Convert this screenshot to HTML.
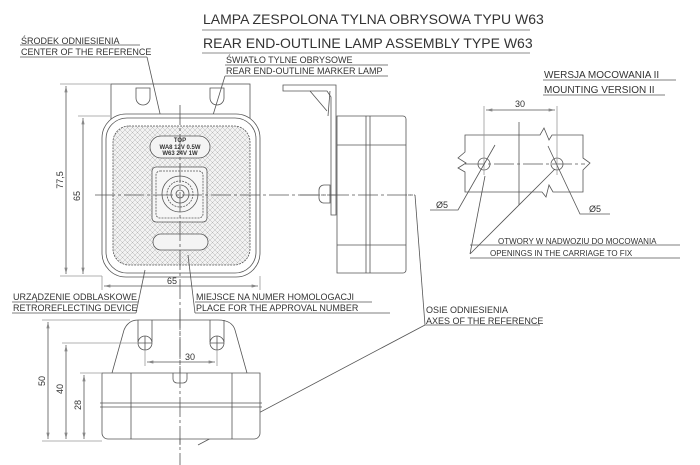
<!DOCTYPE html>
<html><head><meta charset="utf-8"><style>
html,body{margin:0;padding:0;background:#fff;}
svg{display:block;}
text{font-family:"Liberation Sans","DejaVu Sans",sans-serif;fill:#333;}
</style></head><body>
<svg width="700" height="465" viewBox="0 0 700 465" xmlns="http://www.w3.org/2000/svg">
<defs>
<pattern id="tex" width="5" height="5" patternUnits="userSpaceOnUse">
<rect width="5" height="5" fill="#f2f2f2"/>
<path d="M0 0L5 5M5 0L0 5" stroke="#b8b8b8" stroke-width="0.5"/>
</pattern>
<marker id="ar" markerWidth="8" markerHeight="4" refX="8" refY="2" orient="auto-start-reverse"><path d="M0 0L8 2L0 4z" fill="#888"/></marker>
</defs>
<g stroke="#555" stroke-width="0.8" fill="none">
<line x1="202" y1="30" x2="530" y2="30" stroke="#666"/>
<line x1="202" y1="53" x2="530" y2="53" stroke="#666"/>
<line x1="20" y1="45" x2="140" y2="45"/>
<line x1="20" y1="57" x2="147" y2="57"/>
<line x1="147" y1="57" x2="178" y2="192"/>
<line x1="225" y1="65" x2="388" y2="65"/>
<line x1="225" y1="76" x2="388" y2="76"/>
<line x1="225" y1="76" x2="190" y2="190"/>
<rect x="111" y="84" width="139" height="40"/>
<path d="M136 88v10a7 7 0 0 0 14 0v-10z"/>
<path d="M210 88v10a7 7 0 0 0 14 0v-10z"/>
<rect x="102" y="114" width="158" height="163" rx="24" fill="#fff"/>
<rect x="106" y="118" width="150" height="155" rx="21"/>
<rect x="113" y="126" width="137" height="139" rx="16" fill="url(#tex)" stroke-dasharray="2 1"/>
<rect x="150" y="136" width="60" height="22" rx="11" fill="#f4f4f4"/>
<rect x="152" y="167" width="55" height="55" rx="4" fill="#f6f6f6"/>
<rect x="156" y="171" width="47" height="47" rx="4" stroke-dasharray="2 1"/>
<circle cx="180" cy="194" r="18"/>
<circle cx="180" cy="194" r="13" stroke-dasharray="2 1"/>
<circle cx="180" cy="194" r="9"/>
<circle cx="180" cy="194" r="4"/>
<rect x="153" y="234" width="55" height="16" rx="8" fill="#f4f4f4"/>
<line x1="180" y1="105" x2="180" y2="465" stroke-dasharray="20 3 3 3"/>
<line x1="95" y1="195" x2="415" y2="195" stroke-dasharray="20 3 3 3"/>
<line x1="415" y1="195" x2="425" y2="325"/>
<line x1="60" y1="84" x2="111" y2="84" stroke="#999"/>
<line x1="78" y1="116" x2="110" y2="116" stroke="#999"/>
<line x1="60" y1="276" x2="102" y2="276" stroke="#999"/>
<line x1="66" y1="86" x2="66" y2="274" marker-start="url(#ar)" marker-end="url(#ar)"/>
<line x1="83" y1="118" x2="83" y2="274" marker-start="url(#ar)" marker-end="url(#ar)"/>
<line x1="102" y1="276" x2="102" y2="290" stroke="#999"/>
<line x1="260" y1="276" x2="260" y2="290" stroke="#999"/>
<line x1="104" y1="286" x2="258" y2="286" marker-start="url(#ar)" marker-end="url(#ar)"/>
<line x1="12" y1="302" x2="138" y2="302"/>
<line x1="12" y1="313" x2="136" y2="313"/>
<line x1="136" y1="313" x2="145" y2="270"/>
<line x1="195" y1="302" x2="372" y2="302"/>
<line x1="195" y1="313" x2="390" y2="313"/>
<line x1="195" y1="313" x2="188" y2="255"/>
<path d="M283 85h53v130h-5v-118l-4-6h-44z"/>
<path d="M310 91l17 20M330 91l-2 25"/>
<path d="M337 116h66a3 3 0 0 1 3 3v151a3 3 0 0 1-3 3h-66z" fill="#fff"/>
<line x1="366" y1="116" x2="366" y2="273"/>
<line x1="370" y1="116" x2="370" y2="273"/>
<line x1="337" y1="145" x2="406" y2="145"/>
<line x1="337" y1="245" x2="406" y2="245"/>
<path d="M330 185h-6a5 5 0 0 0-5 5v8a5 5 0 0 0 5 5h6z"/>
<line x1="300" y1="195" x2="415" y2="195" stroke-dasharray="20 3 3 3"/>
<line x1="425" y1="325" x2="540" y2="325"/>
<line x1="425" y1="325" x2="198" y2="445"/>
<path d="M112 373l12-43q4-10 14-10h80q14 0 17 10l12 43"/>
<path d="M138 320v22M152 320v22M210 320v22M224 320v22"/>
<circle cx="145" cy="343" r="7" fill="#fff"/><path d="M138 343h14M145 336v14"/>
<circle cx="217" cy="343" r="7" fill="#fff"/><path d="M210 343h14M217 336v14"/>
<path d="M102 373h158v60a6 6 0 0 1-6 6h-146a6 6 0 0 1-6-6z" fill="#fff"/>
<line x1="100" y1="403" x2="262" y2="403"/>
<line x1="100" y1="407" x2="262" y2="407"/>
<line x1="131" y1="373" x2="131" y2="439"/>
<line x1="232" y1="373" x2="232" y2="439"/>
<path d="M173 373v6a4 4 0 0 0 4 4h6a4 4 0 0 0 4-4v-6"/>
<line x1="180" y1="310" x2="180" y2="445" stroke-dasharray="20 3 3 3"/>
<line x1="145" y1="350" x2="145" y2="366" stroke="#999"/>
<line x1="217" y1="350" x2="217" y2="366" stroke="#999"/>
<line x1="147" y1="362" x2="215" y2="362" marker-start="url(#ar)" marker-end="url(#ar)"/>
<line x1="42" y1="320" x2="130" y2="320" stroke="#999"/>
<line x1="62" y1="343" x2="138" y2="343" stroke="#999"/>
<line x1="80" y1="373" x2="102" y2="373" stroke="#999"/>
<line x1="42" y1="441" x2="102" y2="441" stroke="#999"/>
<line x1="48" y1="322" x2="48" y2="439" marker-start="url(#ar)" marker-end="url(#ar)"/>
<line x1="66" y1="345" x2="66" y2="439" marker-start="url(#ar)" marker-end="url(#ar)"/>
<line x1="84" y1="375" x2="84" y2="439" marker-start="url(#ar)" marker-end="url(#ar)"/>
<line x1="543" y1="80" x2="676" y2="80"/>
<line x1="543" y1="95" x2="665" y2="95"/>
<path d="M465 135H540L544 128L549 140L552 135H583V158L590 163L583 170V192H553L549 185L546 197L542 192H465V172L458 168L466 163L458 158L465 152Z"/>
<line x1="465" y1="164" x2="585" y2="164" stroke-dasharray="20 3 3 3"/>
<line x1="519" y1="122" x2="519" y2="205"/>
<circle cx="484" cy="164" r="6"/>
<circle cx="557" cy="164" r="6"/>
<line x1="484" y1="106" x2="484" y2="175" stroke="#999"/>
<line x1="557" y1="106" x2="557" y2="175" stroke="#999"/>
<line x1="486" y1="110" x2="555" y2="110" marker-start="url(#ar)" marker-end="url(#ar)"/>
<path d="M430 210h28l37 -65"/>
<path d="M610 214h-30l-32 -68"/>
<path d="M470 254l15 -78M470 254l85 -85"/>
<line x1="470" y1="245" x2="680" y2="245"/>
<line x1="470" y1="258" x2="680" y2="258"/>
</g>
<text x="203" y="24" font-size="14">LAMPA ZESPOLONA TYLNA OBRYSOWA TYPU W63</text>
<text x="203" y="48" font-size="14">REAR END-OUTLINE LAMP ASSEMBLY TYPE W63</text>
<text x="21" y="44" font-size="9">ŚRODEK ODNIESIENIA</text>
<text x="21" y="55" font-size="9">CENTER OF THE REFERENCE</text>
<text x="226" y="63" font-size="9">ŚWIATŁO TYLNE OBRYSOWE</text>
<text x="226" y="74" font-size="9">REAR END-OUTLINE MARKER LAMP</text>
<text x="180" y="142" font-size="6" text-anchor="middle" font-weight="bold">TOP</text>
<text x="180" y="149" font-size="6" text-anchor="middle" font-weight="bold">WA8 12V 0.5W</text>
<text x="180" y="155" font-size="6" text-anchor="middle" font-weight="bold">W63 24V 1W</text>
<text x="63" y="180" font-size="9" transform="rotate(-90 63 180)" text-anchor="middle">77,5</text>
<text x="80" y="196" font-size="9" transform="rotate(-90 80 196)" text-anchor="middle">65</text>
<text x="172" y="284" font-size="9" text-anchor="middle">65</text>
<text x="13" y="300" font-size="9">URZĄDZENIE ODBLASKOWE</text>
<text x="13" y="311" font-size="9">RETROREFLECTING DEVICE</text>
<text x="196" y="300" font-size="9">MIEJSCE NA NUMER HOMOLOGACJI</text>
<text x="196" y="311" font-size="9">PLACE FOR THE APPROVAL NUMBER</text>
<text x="426" y="313" font-size="9">OSIE ODNIESIENIA</text>
<text x="426" y="324" font-size="9">AXES OF THE REFERENCE</text>
<text x="190" y="360" font-size="9" text-anchor="middle">30</text>
<text x="45" y="381" font-size="9" transform="rotate(-90 45 381)" text-anchor="middle">50</text>
<text x="63" y="389" font-size="9" transform="rotate(-90 63 389)" text-anchor="middle">40</text>
<text x="81" y="405" font-size="9" transform="rotate(-90 81 405)" text-anchor="middle">28</text>
<text x="544" y="78" font-size="10">WERSJA MOCOWANIA II</text>
<text x="544" y="93" font-size="10">MOUNTING VERSION II</text>
<text x="520" y="107" font-size="9" text-anchor="middle">30</text>
<text x="436" y="208" font-size="9">Ø5</text>
<text x="589" y="212" font-size="9">Ø5</text>
<text x="498" y="244" font-size="8">OTWORY W NADWOZIU DO MOCOWANIA</text>
<text x="490" y="256" font-size="8">OPENINGS IN THE CARRIAGE TO FIX</text>
</svg>
</body></html>
